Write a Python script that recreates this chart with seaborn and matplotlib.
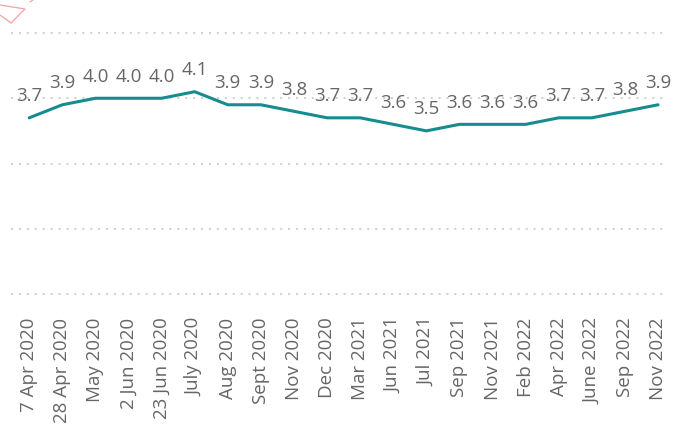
import matplotlib
matplotlib.use("Agg")
import matplotlib.pyplot as plt
from matplotlib.lines import Line2D
import seaborn as sns
import pandas as pd

# Survey rounds and the average score recorded in each
periods = [
    "7 Apr 2020", "28 Apr 2020", "May 2020", "2 Jun 2020", "23 Jun 2020",
    "July 2020", "Aug 2020", "Sept 2020", "Nov 2020", "Dec 2020",
    "Mar 2021", "Jun 2021", "Jul 2021", "Sep 2021", "Nov 2021",
    "Feb 2022", "Apr 2022", "June 2022", "Sep 2022", "Nov 2022",
]
scores = [3.7, 3.9, 4.0, 4.0, 4.0, 4.1, 3.9, 3.9, 3.8, 3.7,
          3.7, 3.6, 3.5, 3.6, 3.6, 3.6, 3.7, 3.7, 3.8, 3.9]
y_grid = [1, 2, 3, 4, 5]

LINE = "#168C91"
TEXT = "#666666"
GRID = "#d2d2d2"

sns.set_theme(style="white")
plt.rcParams["font.family"] = ["Open Sans", "DejaVu Sans"]

W, H = 675, 436
fig = plt.figure(figsize=(W / 100, H / 100), dpi=100)
ax = fig.add_axes([11 / W, 142 / H, 656 / W, 261 / H])

df = pd.DataFrame({"period": periods, "score": scores})
df["pos"] = range(len(df))

sns.lineplot(data=df, x="pos", y="score", ax=ax, color=LINE,
             linewidth=2.2, solid_capstyle="round", solid_joinstyle="round")

ax.set_ylim(y_grid[0], y_grid[-1])
ax.set_xlim(-0.55, len(periods) - 1 + 0.27)

# dotted horizontal gridlines, no y axis labels
ax.set_yticks(y_grid)
ax.set_yticklabels([])
ax.yaxis.grid(True, color=GRID, linewidth=1.5, linestyle=(0, (1, 2.8)))
for gl in ax.get_ygridlines():
    gl.set_clip_on(False)
ax.xaxis.grid(False)

ax.set_xticks(df["pos"])
ax.set_xticklabels(periods, rotation=90, fontsize=13.5, color=TEXT)
ax.tick_params(axis="x", length=0, pad=17)
ax.tick_params(axis="y", length=0)
ax.set_xlabel("")
ax.set_ylabel("")
for s in ax.spines.values():
    s.set_visible(False)

# value labels above each point
for x, v in zip(df["pos"], df["score"]):
    ax.annotate(f"{v:.1f}", (x, v), xytext=(0, 12), textcoords="offset points",
                ha="center", va="baseline", fontsize=13.5, color=TEXT)

# thin pink corner mark
def px(pts):
    return [p[0] / W for p in pts], [1 - p[1] / H for p in pts]

xs, ys = px([(0, 5), (25, 9), (11, 23), (0, 15)])
fig.add_artist(Line2D(xs, ys, transform=fig.transFigure, color="#f2a3a3", lw=0.9))
xs, ys = px([(30, 2), (33, 0)])
fig.add_artist(Line2D(xs, ys, transform=fig.transFigure, color="#f2a3a3", lw=0.9))

fig.savefig("out.png", dpi=100, facecolor="white")
